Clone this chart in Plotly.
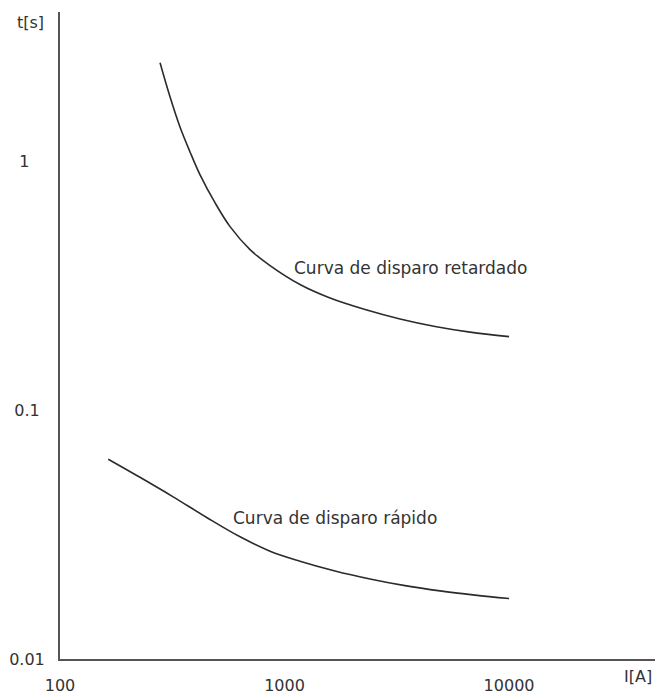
import plotly.graph_objects as go

# Data (log-log time-current curves)
i_retardado = [279, 309, 342, 379, 420, 490, 572, 702, 862, 1172, 1595, 2284, 3269, 4682, 6705, 10000]
t_retardado = [2.50, 1.824, 1.382, 1.097, 0.887, 0.684, 0.548, 0.443, 0.382, 0.3206, 0.283, 0.2544, 0.2331, 0.2175, 0.2064, 0.198]

i_rapido = [164, 227, 319, 452, 634, 862, 1172, 1678, 2403, 3441, 4928, 7058, 10000]
t_rapido = [0.0636, 0.0538, 0.0449, 0.0370, 0.0310, 0.02715, 0.02474, 0.0226, 0.02099, 0.01973, 0.01879, 0.01807, 0.0175]

x_tickvals = [100, 1000, 10000]
x_ticktext = ["100", "1000", "10000"]
y_tickvals = [0.01, 0.1, 1]
y_ticktext = ["0.01", "0.1\u00a0", "1\u00a0\u00a0\u00a0"]

label_retardado = "Curva de disparo retardado"
label_rapido = "Curva de disparo rápido"

FONT = "DejaVu Sans"
TXT = "#333333"
LINE = "#2b2b2b"

fig = go.Figure()
fig.add_trace(go.Scatter(x=i_retardado, y=t_retardado, mode="lines",
                         line=dict(color=LINE, width=1.6, shape="spline", smoothing=1.0),
                         name=label_retardado, showlegend=False, hoverinfo="skip"))
fig.add_trace(go.Scatter(x=i_rapido, y=t_rapido, mode="lines",
                         line=dict(color=LINE, width=1.6, shape="spline", smoothing=1.0),
                         name=label_rapido, showlegend=False, hoverinfo="skip"))

fig.add_annotation(x=3.032, y=-0.426, xref="x", yref="y", text=label_retardado,
                   showarrow=False, xanchor="left", yanchor="middle",
                   font=dict(family=FONT, size=17, color=TXT))
fig.add_annotation(x=2.762, y=-1.434, xref="x", yref="y", text=label_rapido,
                   showarrow=False, xanchor="left", yanchor="middle",
                   font=dict(family=FONT, size=17, color=TXT))

# axis titles placed at the corners like the reference
fig.add_annotation(x=-0.0504, y=0.9845, xref="paper", yref="paper", text="t[s]",
                   showarrow=False, xanchor="center", yanchor="middle",
                   font=dict(family=FONT, size=16, color=TXT))
fig.add_annotation(x=0.998, y=-0.0278, xref="paper", yref="paper", text="I[A]",
                   showarrow=False, xanchor="right", yanchor="middle",
                   font=dict(family=FONT, size=16, color=TXT))

fig.update_layout(
    width=662, height=695,
    margin=dict(l=60, r=7, t=12, b=36),
    paper_bgcolor="white", plot_bgcolor="white",
    font=dict(family=FONT, size=16, color=TXT),
    xaxis=dict(type="log", range=[2, 4.65], tickvals=x_tickvals, ticktext=x_ticktext,
               showgrid=False, zeroline=False, showline=True, linecolor="#555555", linewidth=2,
               ticks="outside", ticklen=11, tickcolor="rgba(0,0,0,0)", automargin=False),
    yaxis=dict(type="log", range=[-2, 0.602], tickvals=y_tickvals, ticktext=y_ticktext,
               showgrid=False, zeroline=False, showline=True, linecolor="#555555", linewidth=2,
               ticks="outside", ticklen=10, tickcolor="rgba(0,0,0,0)", automargin=False),
)

fig.write_html("out.html")
